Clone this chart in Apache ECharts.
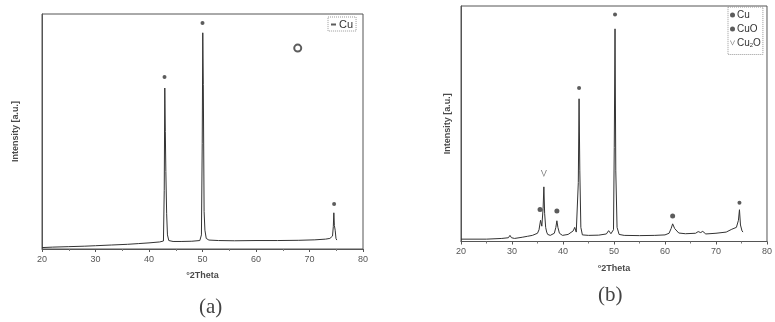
<!DOCTYPE html>
<html><head><meta charset="utf-8">
<script src="https://cdn.jsdelivr.net/npm/echarts@6/dist/echarts.min.js"></script>
<style>html,body{margin:0;padding:0;background:#fff}#c{width:775px;height:322px}</style>
</head><body><div id="c"></div>
<script>
// ---- Data ----
const xTicks = [20, 30, 40, 50, 60, 70, 80];

// Panel (a): Cu
const thetaA = [20,22,25,28,30,33,36,38,40,42,42.7,42.85,42.95,43.05,43.15,43.3,43.45,43.7,44.5,46,48,49.5,49.8,49.95,50.05,50.15,50.3,50.45,50.7,51.2,53,56,60,64,68,71,73,73.8,74.3,74.45,74.55,74.65,74.8,74.95,75.1];
const intensityA = [0.6,0.8,1.0,1.2,1.4,1.7,2.0,2.3,2.6,3.0,3.4,25,68.5,50,33,15,6,3.6,3.2,3.2,3.3,3.6,6,45,92,70,16,8,4.5,3.8,3.6,3.5,3.6,3.6,3.7,3.9,4.2,4.5,5.5,9.5,15.4,10,8,4.5,3.8];
const cuThetaA = [42.9, 50.0, 74.6];
const cuMarkA = [73.2, 96.2, 19.1];
const stampThetaA = [67.8];
const stampYA = [85.5];

// Panel (b): Cu, CuO, Cu2O
const thetaB = [20,25,28,29.3,29.6,29.9,30.5,32,33,34,35,35.3,35.6,35.85,36.1,36.25,36.4,36.6,36.8,37.0,37.5,38.3,38.6,38.8,39.0,39.3,39.9,41,42.0,42.3,42.6,42.8,43.0,43.15,43.3,43.5,43.8,45,47,48.5,48.95,49.4,49.9,50.05,50.2,50.35,50.6,51,52,55,58,60,60.8,61.2,61.5,61.9,62.7,64,66,66.5,67,67.4,68,70,72,73.1,74.0,74.4,74.6,74.8,75.1,75.3];
const intensityB = [1.0,1.0,1.3,1.6,2.6,1.6,1.3,1.8,2.2,2.6,3.5,5,9.0,6.5,14,23.2,12,6,4,3,2.6,3.5,6,8.8,6,3.5,2.6,3,4.5,6,4,4.2,25,60.6,30,6,2.8,2.6,2.7,3.2,4.6,3.3,5,40,90.3,30,6,3,2.6,2.5,2.6,2.8,3.5,5.5,7.5,5.5,3.6,3.3,3.5,4.2,3.8,4.3,3.2,3.5,4.0,5.2,6,9,13.5,7,4.5,4];
const cuThetaB = [43.15, 50.2, 74.6];
const cuMarkB = [65.2, 96.4, 16.5];
const cuoThetaB = [35.5, 38.8, 61.5];
const cuoMarkB = [13.6, 12.9, 10.8];
const cu2oThetaB = [36.25];
const cu2oMarkB = [28.9];

const pairs = (xs, ys) => xs.map((x, i) => [x, ys[i]]);

const ink = '#333';
const txt = '#4a4a4a';
const font = 'Liberation Sans, Arial, sans-serif';

function xAxis(gi, nameGap) {
  return {
    gridIndex: gi, type: 'value', min: 20, max: 80, interval: 10,
    name: '\u00B02Theta', nameLocation: 'middle', nameGap: nameGap,
    nameTextStyle: { color: txt, fontSize: 9, fontWeight: 'bold', fontFamily: font },
    axisLine: { show: true, lineStyle: { color: '#555', width: 1 } },
    axisTick: { show: true, length: 3, lineStyle: { color: '#555' } },
    minorTick: { show: true, splitNumber: 2, length: 2, lineStyle: { color: '#777' } },
    axisLabel: { color: '#555', fontSize: 9, fontFamily: font, margin: 6,
      formatter: v => xTicks.includes(v) ? String(v) : '' },
    splitLine: { show: false }
  };
}
function yAxis(gi, nameGap) {
  return {
    gridIndex: gi, type: 'value', min: 0, max: 100,
    name: 'Intensity [a.u.]', nameLocation: 'middle', nameGap: nameGap, nameRotate: 90,
    nameTextStyle: { color: txt, fontSize: 9, fontWeight: 'bold', fontFamily: font },
    axisLine: { show: true, lineStyle: { color: '#555', width: 1 } },
    axisTick: { show: false }, axisLabel: { show: false }, splitLine: { show: false }
  };
}

const chart = echarts.init(document.getElementById('c'), null, { renderer: 'canvas' });
chart.setOption({
  backgroundColor: '#fff',
  animation: false,
  grid: [
    { left: 42, top: 14, width: 321, height: 235, show: true, borderColor: '#555', borderWidth: 1 },
    { left: 461, top: 6, width: 310, height: 235.5, show: true, borderColor: '#555', borderWidth: 1 }
  ],
  xAxis: [xAxis(0, 22), xAxis(1, 23)],
  yAxis: [yAxis(0, 22), yAxis(1, 9)],
  legend: [
    { data: [{ name: 'Cu', icon: 'rect' }], left: 328, top: 17, orient: 'vertical',
      itemWidth: 5, itemHeight: 2, itemGap: 2, padding: [2, 3, 1, 3],
      borderColor: '#999', borderWidth: 1, borderType: 'dotted',
      textStyle: { color: '#333', fontSize: 11, fontFamily: font, padding: [0,0,0,-2] }, selectedMode: false },
    { data: [{ name: 'Cu ', icon: 'circle' }, { name: 'CuO', icon: 'circle' },
             { name: 'Cu2O', icon: 'path://M0,0L1.5,0L5,8L8.5,0L10,0L5,10Z' }],
      left: 728, top: 7, orient: 'vertical',
      itemWidth: 5, itemHeight: 5, itemGap: 4, padding: [3, 2, 6, 2],
      borderColor: '#999', borderWidth: 1, borderType: 'dotted',
      formatter: n => n === 'Cu2O' ? 'Cu{s|2}O' : n.trim(),
      textStyle: { color: '#333', fontSize: 10, fontFamily: font, padding: [0,0,0,-3],
        rich: { s: { fontSize: 6, verticalAlign: 'bottom', padding: [5,0,0,0], color: '#333' } } },
      selectedMode: false }
  ],
  series: [
    { type: 'line', xAxisIndex: 0, yAxisIndex: 0, data: pairs(thetaA, intensityA),
      showSymbol: false, lineStyle: { color: ink, width: 1 }, silent: true },
    { name: 'Cu', type: 'scatter', xAxisIndex: 0, yAxisIndex: 0, data: pairs(cuThetaA, cuMarkA),
      symbol: 'circle', symbolSize: 4, itemStyle: { color: ink } },
    { name: 'stamp', type: 'scatter', xAxisIndex: 0, yAxisIndex: 0, data: pairs(stampThetaA, stampYA),
      symbol: 'circle', symbolSize: 7, itemStyle: { color: '#fff', borderColor: '#333', borderWidth: 2 } },
    { type: 'line', xAxisIndex: 1, yAxisIndex: 1, data: pairs(thetaB, intensityB),
      showSymbol: false, lineStyle: { color: ink, width: 1 }, silent: true },
    { name: 'Cu ', type: 'scatter', xAxisIndex: 1, yAxisIndex: 1, data: pairs(cuThetaB, cuMarkB),
      symbol: 'circle', symbolSize: 4, itemStyle: { color: ink } },
    { name: 'CuO', type: 'scatter', xAxisIndex: 1, yAxisIndex: 1, data: pairs(cuoThetaB, cuoMarkB),
      symbol: 'circle', symbolSize: 5, itemStyle: { color: ink } },
    { name: 'Cu2O', type: 'scatter', xAxisIndex: 1, yAxisIndex: 1, data: pairs(cu2oThetaB, cu2oMarkB),
      symbol: 'path://M0,0L1.5,0L5,8L8.5,0L10,0L5,10Z', symbolSize: [6, 7], itemStyle: { color: '#555' } }
  ],
  graphic: [
    { type: 'text', left: 199, top: 297, style: { text: '(a)', font: '21px "Liberation Serif", serif', fill: '#444' } },
    { type: 'text', left: 598, top: 285, style: { text: '(b)', font: '21px "Liberation Serif", serif', fill: '#444' } }
  ]
});
</script></body></html>
